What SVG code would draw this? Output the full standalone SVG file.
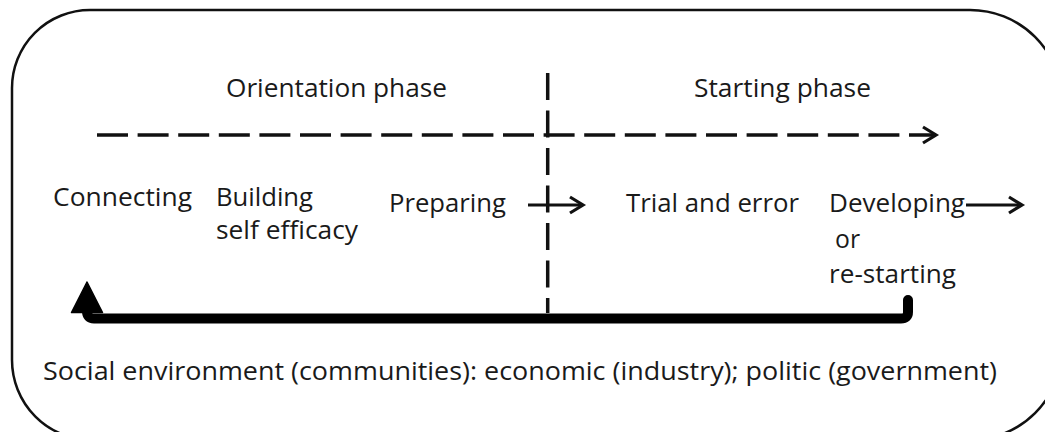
<svg xmlns="http://www.w3.org/2000/svg" width="1045" height="432" viewBox="0 0 1045 432">
  <style>
    .frame { fill: #ffffff; stroke: #111111; stroke-width: 2.5; }
    .lbl { font-family: "Open Sans", "Liberation Sans", sans-serif; font-size: 26px; fill: #1a1a1a; }
    .dash { fill: none; stroke: #111111; stroke-width: 3.5; }
    .arrow { fill: none; stroke: #111111; stroke-width: 3; }
    .thick { fill: none; stroke: #000000; stroke-width: 10; stroke-linejoin: round; stroke-linecap: round; }
  </style>
  <defs>
    <marker id="chev" markerUnits="userSpaceOnUse" markerWidth="18" markerHeight="20" refX="15" refY="9" orient="auto" overflow="visible">
      <path d="M2,1 L15,9 L2,17" fill="none" stroke="#111111" stroke-width="3.2" stroke-linejoin="miter"/>
    </marker>
  </defs>
  <rect width="1045" height="432" fill="#ffffff"/>

  <g id="frame">
    <path class="frame" d="M 90 10 H 970 A 92 92 0 0 1 1062 102 V 348 A 92 92 0 0 1 970 440 H 92 A 80 80 0 0 1 12 360 V 88 A 78 78 0 0 1 90 10 Z"/>
  </g>

  <g id="connectors">
    <path class="dash" d="M 97 135 H 936" stroke-dasharray="31 9.6" marker-end="url(#chev)"/>
    <path class="dash" d="M 547.7 73 V 313" stroke-dasharray="27 10.5"/>
    <path class="arrow" d="M 528 205 H 583" marker-end="url(#chev)"/>
    <path class="arrow" d="M 966 205 H 1022" marker-end="url(#chev)"/>
    <path class="thick" d="M 908 300 V 312 Q 908 318.5 901 318.5 H 94 Q 87 318.5 87 311"/>
    <polygon points="87,282 71.5,312.5 102.5,312.5" fill="#000000" stroke="#000000" stroke-width="1.5" stroke-linejoin="round"/>
  </g>

  <g id="orientation-phase">
    <text class="lbl" x="226" y="97" textLength="221" lengthAdjust="spacingAndGlyphs">Orientation phase</text>
  </g>
  <g id="starting-phase">
    <text class="lbl" x="694" y="97" textLength="177" lengthAdjust="spacingAndGlyphs">Starting phase</text>
  </g>
  <g id="connecting">
    <text class="lbl" x="53" y="206" textLength="139" lengthAdjust="spacingAndGlyphs">Connecting</text>
  </g>
  <g id="building-self-efficacy">
    <text class="lbl" x="216" y="206" textLength="97" lengthAdjust="spacingAndGlyphs">Building</text>
    <text class="lbl" x="216" y="239" textLength="142" lengthAdjust="spacingAndGlyphs">self efficacy</text>
  </g>
  <g id="preparing">
    <text class="lbl" x="389" y="212" textLength="117" lengthAdjust="spacingAndGlyphs">Preparing</text>
  </g>
  <g id="trial-and-error">
    <text class="lbl" x="626" y="212" textLength="173" lengthAdjust="spacingAndGlyphs">Trial and error</text>
  </g>
  <g id="developing-or-restarting">
    <text class="lbl" x="829" y="212" textLength="136" lengthAdjust="spacingAndGlyphs">Developing</text>
    <text class="lbl" x="835" y="248" textLength="25" lengthAdjust="spacingAndGlyphs">or</text>
    <text class="lbl" x="829" y="283" textLength="127" lengthAdjust="spacingAndGlyphs">re-starting</text>
  </g>
  <g id="social-environment">
    <text class="lbl" x="43" y="380" textLength="954" lengthAdjust="spacingAndGlyphs">Social environment (communities): economic (industry); politic (government)</text>
  </g>
</svg>
